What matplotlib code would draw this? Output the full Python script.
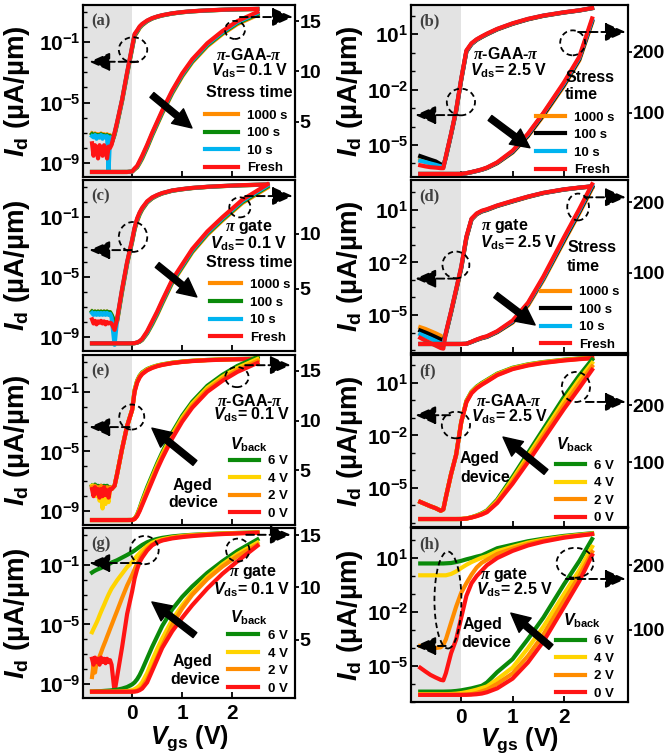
import matplotlib
matplotlib.use('Agg')
import matplotlib.pyplot as plt
from matplotlib.patches import Ellipse
from matplotlib.ticker import FixedLocator, LogLocator, NullFormatter

plt.rcParams['font.family'] = ['Liberation Sans', 'DejaVu Sans']
plt.rcParams['font.weight'] = 'bold'
plt.rcParams['axes.labelweight'] = 'bold'
plt.rcParams['mathtext.fontset'] = 'custom'
plt.rcParams['mathtext.rm'] = 'Liberation Sans:bold'
plt.rcParams['mathtext.it'] = 'Liberation Sans:italic:bold'
plt.rcParams['mathtext.bf'] = 'Liberation Sans:bold'
plt.rcParams['mathtext.sf'] = 'Liberation Serif:italic:bold'
plt.rcParams['axes.linewidth'] = 1.5

# gate voltage grids (V)
vg_l = [-0.80, -0.77, -0.74, -0.71, -0.68, -0.65, -0.62, -0.59, -0.56, -0.53, -0.50, -0.47, -0.44, -0.41,
        -0.35, -0.30, -0.20, -0.10, 0.00, 0.05, 0.10, 0.15, 0.20, 0.30, 0.40, 0.50, 0.60, 0.80, 1.00, 1.20,
        1.50, 1.80, 2.10, 2.50]
vg_c = [-0.80, -0.77, -0.74, -0.71, -0.68, -0.65, -0.62, -0.59, -0.56, -0.53, -0.50, -0.47, -0.44, -0.41,
        -0.35, -0.30, -0.20, -0.10, 0.00, 0.05, 0.10, 0.15, 0.20, 0.30, 0.40, 0.50, 0.60, 0.80, 1.00, 1.20,
        1.50, 1.80, 2.20, 2.70]
vg_r = [-0.80, -0.70, -0.60, -0.50, -0.40, -0.35, -0.30, -0.20, -0.10, 0.00, 0.10, 0.20, 0.30, 0.40,
        0.50, 0.70, 1.00, 1.30, 1.60, 2.00, 2.30, 2.55]

# drain current Id (uA/um)
# (a) pi-GAA-pi, Vds = 0.1 V, stress
a_1000s = [9e-8, 8e-8, 9e-8, 7e-8, 8e-8, 6e-8, 9e-8, 7e-8, 8e-8, 6e-8, 8e-8, 6e-8, 7e-8, 2e-8,
           7e-8, 3.5e-7, 1.2e-5, 7e-4, 0.035, 0.25, 0.45, 0.85, 1.3, 2.4, 3.6, 4.7, 5.8, 7.8, 9.5, 10.9, 12.5, 13.7, 14.7, 15.6]
a_100s = [8e-8, 6e-8, 8e-8, 6e-8, 7e-8, 5e-8, 8e-8, 6e-8, 7e-8, 5e-8, 7e-8, 5e-8, 6e-8, 2e-8,
          8e-8, 4e-7, 1.4e-5, 8e-4, 0.04, 0.28, 0.5, 0.95, 1.4, 2.5, 3.7, 4.8, 5.9, 7.9, 9.6, 11.0, 12.6, 13.8, 14.8, 15.7]
a_10s = [6e-8, 5e-8, 7e-8, 4e-8, 6e-8, 5e-8, 7e-8, 4e-8, 6e-8, 5e-8, 6e-8, 3e-10, 5e-8, 2e-8,
         9e-8, 4.5e-7, 1.5e-5, 9e-4, 0.045, 0.32, 0.56, 1.0, 1.5, 2.6, 3.8, 4.9, 6.0, 8.0, 9.7, 11.1, 12.7, 13.9, 14.9, 15.8]
a_fresh = [2e-8, 3e-9, 1.5e-8, 1e-8, 2e-9, 1.5e-8, 1e-8, 3e-9, 1.5e-8, 8e-9, 2e-9, 1.2e-8, 1e-8, 1.6e-8,
           1e-7, 5e-7, 1.6e-5, 1e-3, 0.05, 0.35, 0.6, 1.1, 1.6, 2.7, 3.9, 5.0, 6.1, 8.1, 9.8, 11.2, 12.8, 14.0, 15.0, 15.9]

# (b) pi-GAA-pi, Vds = 2.5 V, stress
b_1000s = [1.8e-6, 1.5e-6, 1.3e-6, 1.1e-6, 8e-7, 6.5e-7, 2.1e-6, 3.4e-5, 6.5e-4, 0.033, 1.1, 2.8, 4.7, 6.8,
           9.5, 17.5, 35, 62, 95, 144, 186, 248]
b_100s = [2.5e-6, 2e-6, 1.6e-6, 1.3e-6, 9e-7, 7e-7, 2.2e-6, 3.6e-5, 7e-4, 0.035, 1.15, 2.9, 4.9, 7.0,
          9.8, 18, 36, 63, 97, 146, 188, 250]
b_10s = [1.4e-6, 1.2e-6, 1e-6, 8.5e-7, 7e-7, 6e-7, 2.3e-6, 3.8e-5, 7.5e-4, 0.037, 1.2, 3.0, 5.0, 7.2,
         10.1, 18.5, 37, 65, 99, 148, 190, 252]
b_fresh = [8e-7, 7e-7, 6.3e-7, 6e-7, 5.6e-7, 5.6e-7, 2.5e-6, 4e-5, 8e-4, 0.04, 1.3, 3.2, 5.2, 7.5,
           10.5, 19, 38, 66, 100, 150, 192, 255]

# (c) pi gate, Vds = 0.1 V, stress
c_1000s = [5e-8, 4.5e-8, 5e-8, 4e-8, 5e-8, 4.5e-8, 5e-8, 4e-8, 5e-8, 4.5e-8, 5e-8, 4e-8, 4.5e-8, 3e-8,
           1e-8, 1e-8, 1e-6, 7e-5, 2e-3, 0.014, 0.05, 0.14, 0.3, 0.9, 1.7, 2.6, 3.6, 5.5, 6.9, 8.3, 9.9, 11.2, 12.8, 14.2]
c_100s = [5e-8, 4e-8, 5e-8, 4e-8, 5e-8, 4e-8, 5e-8, 4e-8, 5e-8, 4e-8, 5e-8, 4e-8, 4.5e-8, 3e-8,
          1e-8, 1.2e-8, 1.2e-6, 8e-5, 2.4e-3, 0.016, 0.06, 0.16, 0.33, 0.95, 1.8, 2.7, 3.7, 5.6, 7.0, 8.4, 10.0, 11.3, 12.9, 14.3]
c_10s = [4e-8, 3e-8, 4e-8, 3e-8, 4e-8, 3e-8, 4e-8, 3e-8, 4e-8, 3e-8, 4e-8, 3e-8, 3.5e-8, 2e-8,
         3e-10, 1.4e-8, 1.4e-6, 9e-5, 2.7e-3, 0.018, 0.07, 0.18, 0.37, 1.0, 1.9, 2.8, 3.8, 5.7, 7.1, 8.5, 10.1, 11.4, 13.0, 14.4]
c_fresh = [1.5e-8, 8e-9, 1.2e-8, 7e-9, 1.1e-8, 9e-9, 1.2e-8, 8e-9, 1.1e-8, 7e-9, 1e-8, 8e-9, 9e-9, 8e-9,
           3e-9, 1.6e-8, 1.6e-6, 1e-4, 3e-3, 0.02, 0.08, 0.2, 0.4, 1.1, 2.0, 2.9, 3.9, 5.8, 7.2, 8.6, 10.2, 11.5, 13.1, 14.5]

# (d) pi gate, Vds = 2.5 V, stress
d_1000s = [2e-6, 1.6e-6, 1.2e-6, 9e-7, 6.5e-7, 5e-7, 8e-7, 1.3e-5, 2.4e-4, 4.5e-3, 0.24, 2.8, 5.6, 8.0,
           9.8, 16.5, 30, 54, 90, 144, 184, 219]
d_100s = [1.3e-6, 1e-6, 7.5e-7, 5.5e-7, 4e-7, 3.2e-7, 8.5e-7, 1.4e-5, 2.6e-4, 5e-3, 0.26, 2.9, 5.8, 8.3,
          10.2, 17, 31, 56, 92, 146, 186, 221]
d_10s = [8e-7, 6e-7, 4.5e-7, 3.3e-7, 2.4e-7, 2e-7, 9e-7, 1.5e-5, 2.8e-4, 5.5e-3, 0.28, 3.0, 6.0, 8.6,
         10.5, 17.5, 32, 57, 93, 148, 188, 223]
d_fresh = [5e-7, 3.5e-7, 2.5e-7, 1.8e-7, 1.3e-7, 1.2e-7, 1e-6, 1.6e-5, 3e-4, 6e-3, 0.3, 3.2, 6.3, 9.0,
           11, 18, 33, 58, 95, 150, 190, 225]

# (e) pi-GAA-pi, Vds = 0.1 V, aged, back-gate bias
e_6V = [5e-8, 4e-8, 6e-8, 4e-8, 5e-8, 3e-8, 5e-8, 4e-8, 5e-8, 3e-8, 5e-8, 3e-8, 4e-8, 3e-8,
        5e-8, 3e-7, 1.5e-5, 5e-4, 6e-3, 0.13, 0.55, 1.2, 1.95, 3.3, 4.5, 5.7, 6.8, 8.8, 10.5, 11.9, 13.5, 14.6, 15.5, 16.4]
e_4V = [5e-8, 2e-8, 4e-8, 1e-8, 3e-8, 5e-9, 2e-8, 1.5e-9, 1e-8, 3e-9, 2e-8, 4e-9, 3e-8, 3e-8,
        5e-8, 3e-7, 1.5e-5, 5e-4, 6e-3, 0.12, 0.5, 1.1, 1.8, 3.1, 4.3, 5.5, 6.6, 8.6, 10.3, 11.7, 13.3, 14.4, 15.3, 16.2]
e_2V = [4e-8, 2e-8, 5e-8, 3e-8, 4e-8, 2e-8, 5e-8, 2e-8, 4e-8, 3e-8, 4e-8, 1.5e-8, 4e-8, 3e-8,
        5e-8, 3e-7, 1.5e-5, 5e-4, 6e-3, 0.11, 0.45, 1.0, 1.65, 2.9, 4.1, 5.3, 6.4, 8.4, 10.1, 11.5, 13.1, 14.2, 15.1, 16.0]
e_0V = [3e-8, 1e-8, 4e-8, 1.5e-8, 3e-8, 8e-9, 3e-8, 1e-8, 4e-8, 1.2e-8, 2.5e-8, 8e-9, 3e-8, 3e-8,
        5e-8, 3e-7, 1.5e-5, 5e-4, 6e-3, 0.1, 0.4, 0.9, 1.5, 2.7, 3.9, 5.1, 6.2, 8.2, 9.9, 11.3, 12.9, 14.0, 14.9, 15.8]

# (f) pi-GAA-pi, Vds = 2.5 V, aged, back-gate bias
f_6V = [1.6e-6, 1.2e-6, 9e-7, 7e-7, 5e-7, 6e-7, 3e-6, 6e-5, 8e-4, 0.06, 0.95, 3.2, 6.2, 10,
        15, 34, 74, 116, 158, 214, 252, 280]
f_4V = [1.6e-6, 1.2e-6, 9e-7, 7e-7, 5e-7, 6e-7, 3e-6, 6e-5, 8e-4, 0.06, 0.9, 3.0, 5.8, 9.2,
        14, 32, 70, 111, 152, 207, 245, 274]
f_2V = [1.6e-6, 1.2e-6, 9e-7, 7e-7, 5e-7, 6e-7, 3e-6, 6e-5, 8e-4, 0.06, 0.85, 2.8, 5.4, 8.6,
        13, 30, 66, 106, 146, 200, 238, 268]
f_0V = [1.6e-6, 1.2e-6, 9e-7, 7e-7, 5e-7, 6e-7, 3e-6, 6e-5, 8e-4, 0.06, 0.8, 2.6, 5.0, 8.0,
        12, 28, 62, 100, 140, 193, 230, 262]

# (g) pi gate, Vds = 0.1 V, aged, back-gate bias
g_6V = [0.03, 0.035, 0.04, 0.045, 0.05, 0.055, 0.06, 0.07, 0.08, 0.09, 0.1, 0.11, 0.12, 0.14,
        0.17, 0.2, 0.3, 0.45, 0.7, 0.9, 1.2, 1.6, 2.1, 3.2, 4.3, 5.3, 6.3, 7.9, 9.1, 10.1, 11.4, 12.5, 13.5, 14.6]
g_4V = [3e-6, 5e-6, 8e-6, 1.3e-5, 2.2e-5, 4e-5, 7e-5, 1.2e-4, 2e-4, 3.5e-4, 6e-4, 1e-3, 1.6e-3, 2.5e-3,
        5e-3, 9e-3, 0.025, 0.07, 0.15, 0.25, 0.4, 0.6, 0.9, 1.8, 3.0, 4.1, 5.1, 6.9, 8.3, 9.5, 11.0, 12.2, 13.2, 14.3]
g_2V = [3e-9, 2e-8, 6e-9, 3e-8, 4e-8, 7e-8, 1.3e-7, 2.5e-7, 4.5e-7, 8e-7, 1.5e-6, 2.7e-6, 5e-6, 9e-6,
        3e-5, 8e-5, 6e-4, 4e-3, 0.02, 0.05, 0.12, 0.25, 0.45, 1.2, 2.2, 3.3, 4.4, 6.4, 8.0, 9.3, 10.8, 12.0, 13.0, 14.1]
g_0V = [5e-8, 2e-8, 6e-8, 3e-8, 5e-8, 2e-8, 6e-8, 3e-8, 5e-8, 2.5e-8, 5e-8, 3e-8, 4e-8, 2e-8,
        3e-10, 3e-9, 3e-7, 5e-5, 1.6e-3, 0.012, 0.05, 0.15, 0.3, 0.9, 2.0, 3.1, 4.2, 5.8, 7.1, 8.3, 9.9, 11.3, 12.5, 14.0]

# (h) pi gate, Vds = 2.5 V, aged, back-gate bias
h_6V = [5, 5, 5, 5, 5, 5, 5.1, 5.3, 6, 7, 8.5, 10, 12, 14,
        19, 35, 55, 86, 119, 170, 206, 240]
h_4V = [1.1, 1.1, 1.1, 1.1, 1.1, 1.1, 1.1, 1.3, 1.8, 2.8, 4.2, 6, 8, 10.5,
        13, 24, 42, 72, 105, 155, 192, 228]
h_2V = [1.3e-4, 1.2e-4, 1.1e-4, 1e-4, 1.1e-4, 1.5e-4, 3e-4, 2.5e-3, 0.02, 0.12, 0.4, 1.2, 3.0, 5.5,
        8, 17, 33, 60, 93, 145, 183, 220]
h_0V = [8e-6, 5e-6, 3.2e-6, 2.3e-6, 1.7e-6, 1.6e-6, 4e-6, 5e-5, 3e-4, 5e-3, 0.08, 0.4, 1.0, 2.0,
        4, 10, 25, 50, 82, 135, 175, 215]

stress_labels = ['1000 s', '100 s', '10 s', 'Fresh']
vback_labels = ['6 V', '4 V', '2 V', '0 V']

orange = '#ff8c00'
green = '#0a8a0a'
blue = '#00b4f0'
red = '#ff1414'
yellow = '#ffd400'
shade = '#e3e3e3'

stress_cols_l = [orange, green, blue, red]
stress_cols_r = [orange, 'k', blue, red]
vback_cols = [green, yellow, orange, red]

fig = plt.figure(figsize=(6.66, 7.55), dpi=100)


def box(x0, y0, x1, y1):
    return [x0 / 666, 1 - y1 / 755, (x1 - x0) / 666, (y1 - y0) / 755]


def panel(rect, vg, curves, cols, labels, ylog, ylin, logticks, linticks, bottom=False):
    ax = fig.add_axes(rect)
    ax2 = ax.twinx()
    ax.axvspan(-0.98, 0, color=shade, lw=0, zorder=0)
    for cur, col, lab in zip(curves, cols, labels):
        ax.plot(vg, cur, color=col, lw=3)
        ax2.plot(vg, cur, color=col, lw=3, label=lab)
    ax.set_yscale('log')
    ax.set_xlim(-0.98, 3.25)
    ax.set_ylim(*ylog)
    ax2.set_ylim(*ylin)
    ax.yaxis.set_major_locator(FixedLocator(logticks))
    ax.yaxis.set_minor_locator(LogLocator(base=10, subs=(1.0,), numticks=30))
    ax.yaxis.set_minor_formatter(NullFormatter())
    ax2.set_yticks(linticks)
    ax.set_xticks([0, 1, 2])
    ax.tick_params(axis='y', which='major', direction='in', length=5, width=1.3, labelsize=15, pad=2)
    ax.tick_params(axis='y', which='minor', direction='in', length=3, width=1.0)
    ax.tick_params(axis='x', direction='in', length=4, width=1.3, labelsize=15, pad=4,
                   labelbottom=bottom)
    ax2.tick_params(axis='y', direction='out', length=3, width=1.3, labelsize=14, pad=0.5)
    ax.set_ylabel(r'$I_{\mathrm{d}}$ (µA/µm)', fontsize=20)
    if bottom:
        ax.set_xlabel(r'$V_{\mathrm{gs}}$ (V)', fontsize=18)
    return ax, ax2


def tag(ax, s):
    ax.text(0.04, 0.95, s, transform=ax.transAxes, family='Liberation Serif',
            fontsize=12, color='#404040', va='top')


def note(ax, x, y, s, ha='center', size=11.5):
    ax.text(x, y, s, transform=ax.transAxes, ha=ha, va='center', fontsize=size)


def circle(ax, cx, cy, w, h):
    ax.add_patch(Ellipse((cx, cy), w, h, transform=ax.transAxes, fill=False,
                         ec='k', lw=1.3, ls=(0, (3, 2)), clip_on=False, zorder=5))


def dashed_arrow(ax, x0, x1, y):
    ax.annotate('', xy=(x1, y), xytext=(x0, y), xycoords='axes fraction',
                arrowprops=dict(arrowstyle='-|>,head_length=0.9,head_width=0.4',
                                ls=(0, (4, 2)), lw=1.4, color='k',
                                shrinkA=0, shrinkB=0, mutation_scale=14))


def big_arrow(ax, x0, y0, x1, y1):
    ax.annotate('', xy=(x1, y1), xytext=(x0, y0), xycoords='axes fraction',
                arrowprops=dict(arrowstyle='simple,head_length=0.75,head_width=0.75,tail_width=0.25',
                                fc='k', ec='k', shrinkA=0, shrinkB=0, mutation_scale=18))


def legend(ax, x, y, hl):
    ax.legend(loc='lower left', bbox_to_anchor=(x, y), frameon=False, fontsize=9.5,
              handlelength=hl, handletextpad=0.7, labelspacing=0.4, borderpad=0,
              borderaxespad=0)


log_l = (10 ** -9.93, 10 ** 1.46)
pi_gaa = r'$\mathsf{\pi}$-GAA-$\mathsf{\pi}$'
pi_gate = r'$\mathsf{\pi}$ gate'

# (a)
ax, ax2 = panel(box(83, 5, 295, 177), vg_l, [a_1000s, a_100s, a_10s, a_fresh], stress_cols_l,
                stress_labels, log_l, (-0.5, 16.6), [1e-9, 1e-5, 1e-1], [5, 10, 15])
ax.yaxis.set_label_coords(-0.24, 0.5)
tag(ax2, '(a)')
circle(ax2, 0.236, 0.74, 0.134, 0.145)
dashed_arrow(ax2, 0.26, 0.03, 0.67)
circle(ax2, 0.717, 0.855, 0.094, 0.105)
dashed_arrow(ax2, 0.74, 0.99, 0.93)
note(ax2, 0.785, 0.71, pi_gaa)
note(ax2, 0.785, 0.62, r'$V_{\mathrm{ds}}$= 0.1 V')
note(ax2, 0.785, 0.49, 'Stress time')
big_arrow(ax2, 0.325, 0.477, 0.514, 0.285)
legend(ax2, 0.575, 0.015, 2.5)

# (b)
ax, ax2 = panel(box(411, 5, 628, 177), vg_r, [b_1000s, b_100s, b_10s, b_fresh], stress_cols_r,
                stress_labels, (10 ** -6.73, 10 ** 2.57), (-5, 277), [1e-5, 1e-2, 1e1], [100, 200])
ax.yaxis.set_label_coords(-0.21, 0.5)
tag(ax2, '(b)')
circle(ax2, 0.23, 0.436, 0.13, 0.155)
dashed_arrow(ax2, 0.207, 0.02, 0.36)
circle(ax2, 0.745, 0.78, 0.115, 0.145)
dashed_arrow(ax2, 0.77, 0.99, 0.843)
note(ax2, 0.286, 0.715, pi_gaa, ha='left')
note(ax2, 0.272, 0.616, r'$V_{\mathrm{ds}}$= 2.5 V', ha='left')
note(ax2, 0.71, 0.58, 'Stress', ha='left')
note(ax2, 0.71, 0.48, 'time', ha='left')
big_arrow(ax2, 0.364, 0.343, 0.548, 0.17)
legend(ax2, 0.575, 0.005, 2.2)

# (c)
ax, ax2 = panel(box(83, 180, 295, 351), vg_c, [c_1000s, c_100s, c_10s, c_fresh], stress_cols_l,
                stress_labels, log_l, (-0.7, 14.9), [1e-9, 1e-5, 1e-1], [5, 10])
ax.yaxis.set_label_coords(-0.24, 0.5)
tag(ax2, '(c)')
circle(ax2, 0.236, 0.667, 0.134, 0.175)
dashed_arrow(ax2, 0.23, 0.03, 0.59)
circle(ax2, 0.74, 0.84, 0.1, 0.117)
dashed_arrow(ax2, 0.765, 0.99, 0.906)
note(ax2, 0.78, 0.725, pi_gate)
note(ax2, 0.78, 0.63, r'$V_{\mathrm{ds}}$= 0.1 V')
note(ax2, 0.785, 0.515, 'Stress time')
big_arrow(ax2, 0.35, 0.503, 0.537, 0.316)
legend(ax2, 0.6, 0.043, 2.3)

# (d)
ax, ax2 = panel(box(411, 180, 628, 353), vg_r, [d_1000s, d_100s, d_10s, d_fresh], stress_cols_r,
                stress_labels, (10 ** -7.17, 10 ** 2.71), (-12.7, 231), [1e-5, 1e-2, 1e1], [100, 200])
ax.yaxis.set_label_coords(-0.21, 0.5)
tag(ax2, '(d)')
circle(ax2, 0.207, 0.509, 0.124, 0.155)
dashed_arrow(ax2, 0.207, 0.02, 0.43)
circle(ax2, 0.77, 0.844, 0.1, 0.155)
dashed_arrow(ax2, 0.8, 0.99, 0.9)
note(ax2, 0.323, 0.733, pi_gate, ha='left')
note(ax2, 0.318, 0.636, r'$V_{\mathrm{ds}}$= 2.5 V', ha='left')
note(ax2, 0.72, 0.607, 'Stress', ha='left')
note(ax2, 0.72, 0.5, 'time', ha='left')
big_arrow(ax2, 0.39, 0.335, 0.572, 0.162)
legend(ax2, 0.6, 0.013, 2.2)

# (e)
ax, ax2 = panel(box(83, 355, 295, 525), vg_l, [e_6V, e_4V, e_2V, e_0V], vback_cols,
                vback_labels, log_l, (-0.5, 16.6), [1e-9, 1e-5, 1e-1], [5, 10, 15])
ax.yaxis.set_label_coords(-0.24, 0.5)
tag(ax2, '(e)')
circle(ax2, 0.23, 0.635, 0.118, 0.147)
dashed_arrow(ax2, 0.22, 0.03, 0.576)
circle(ax2, 0.726, 0.87, 0.11, 0.118)
dashed_arrow(ax2, 0.765, 0.98, 0.94)
note(ax2, 0.79, 0.73, pi_gaa)
note(ax2, 0.795, 0.647, r'$V_{\mathrm{ds}}$= 0.1 V')
note(ax2, 0.693, 0.47, r'$V_{\mathrm{back}}$', ha='left')
note(ax2, 0.515, 0.23, 'Aged')
note(ax2, 0.52, 0.13, 'device')
big_arrow(ax2, 0.528, 0.365, 0.325, 0.57)
legend(ax2, 0.693, 0.031, 2.2)

# (f)
ax, ax2 = panel(box(411, 355, 628, 527), vg_r, [f_6V, f_4V, f_2V, f_0V], vback_cols,
                vback_labels, (10 ** -7.23, 10 ** 2.6), (-14, 288), [1e-5, 1e-2, 1e1], [100, 200])
ax.yaxis.set_label_coords(-0.21, 0.5)
tag(ax2, '(f)')
circle(ax2, 0.207, 0.593, 0.13, 0.155)
dashed_arrow(ax2, 0.18, 0.02, 0.65)
circle(ax2, 0.76, 0.814, 0.13, 0.175)
dashed_arrow(ax2, 0.806, 0.99, 0.727)
note(ax2, 0.3, 0.73, pi_gaa, ha='left')
note(ax2, 0.276, 0.64, r'$V_{\mathrm{ds}}$= 2.5 V', ha='left')
note(ax2, 0.668, 0.477, r'$V_{\mathrm{back}}$', ha='left')
note(ax2, 0.226, 0.4, 'Aged', ha='left')
note(ax2, 0.226, 0.29, 'device', ha='left')
big_arrow(ax2, 0.622, 0.32, 0.424, 0.523)
legend(ax2, 0.668, 0.015, 2.2)

# (g)
ax, ax2 = panel(box(83, 528, 295, 698), vg_l, [g_6V, g_4V, g_2V, g_0V], vback_cols,
                vback_labels, log_l, (-0.6, 15.7), [1e-9, 1e-5, 1e-1], [5, 10, 15], bottom=True)
ax.yaxis.set_label_coords(-0.24, 0.5)
ax.xaxis.set_label_coords(0.5, -0.15)
tag(ax2, '(g)')
circle(ax2, 0.29, 0.87, 0.134, 0.166)
dashed_arrow(ax2, 0.27, 0.03, 0.794)
circle(ax2, 0.73, 0.87, 0.11, 0.135)
dashed_arrow(ax2, 0.77, 0.98, 0.96)
note(ax2, 0.8, 0.74, pi_gate)
note(ax2, 0.795, 0.64, r'$V_{\mathrm{ds}}$= 0.1 V')
note(ax2, 0.693, 0.47, r'$V_{\mathrm{back}}$', ha='left')
note(ax2, 0.515, 0.217, 'Aged')
note(ax2, 0.53, 0.106, 'device')
big_arrow(ax2, 0.528, 0.37, 0.325, 0.565)
legend(ax2, 0.684, 0.02, 2.3)

# (h)
ax, ax2 = panel(box(411, 528, 628, 702), vg_r, [h_6V, h_4V, h_2V, h_0V], vback_cols,
                vback_labels, (10 ** -7.0, 10 ** 2.67), (-11, 257), [1e-5, 1e-2, 1e1], [100, 200],
                bottom=True)
ax.yaxis.set_label_coords(-0.21, 0.5)
ax.xaxis.set_label_coords(0.5, -0.135)
tag(ax2, '(h)')
circle(ax2, 0.17, 0.586, 0.124, 0.557)
dashed_arrow(ax2, 0.16, 0.02, 0.322)
circle(ax2, 0.756, 0.8, 0.17, 0.172)
dashed_arrow(ax2, 0.714, 0.99, 0.707)
note(ax2, 0.318, 0.73, pi_gate, ha='left')
note(ax2, 0.3, 0.644, r'$V_{\mathrm{ds}}$= 2.5 V', ha='left')
note(ax2, 0.7, 0.47, r'$V_{\mathrm{back}}$', ha='left')
note(ax2, 0.24, 0.443, 'Aged', ha='left')
note(ax2, 0.23, 0.34, 'device', ha='left')
big_arrow(ax2, 0.645, 0.316, 0.46, 0.511)
legend(ax2, 0.668, 0.012, 2.2)

fig.savefig('out.png', dpi=100)
